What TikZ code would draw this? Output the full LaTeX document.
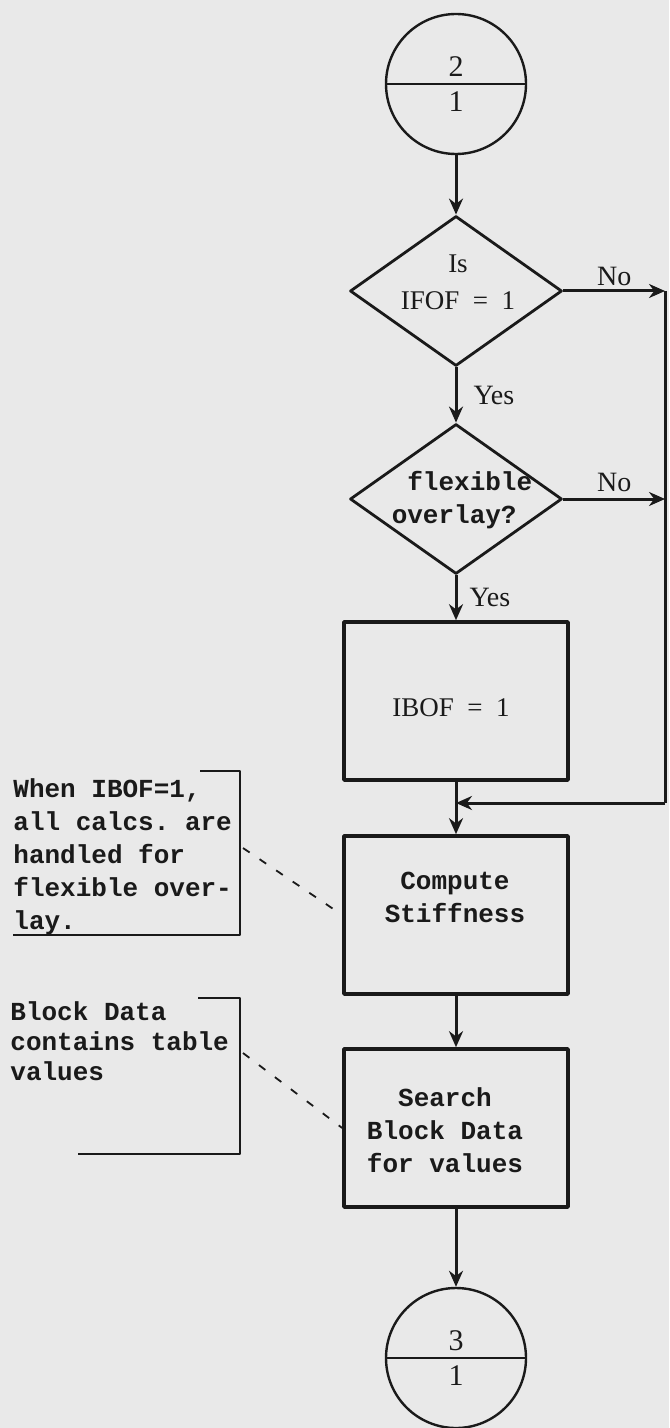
\documentclass[tikz,border=0pt]{standalone}
\usepackage{fontspec}
\setmainfont{Liberation Serif}
\setmonofont{Liberation Mono}
\usetikzlibrary{positioning,arrows.meta,shapes.geometric,shapes.multipart,calc}
\definecolor{ink}{RGB}{26,26,26}
\definecolor{paper}{RGB}{233,233,233}

\begin{document}
\begin{tikzpicture}[
  x=0.5pt, y=-0.5pt,
  line join=round,
  conn/.style={circle split, draw=ink, line width=1.2pt, minimum size=70pt,
               inner sep=3pt, font=\fontsize{15}{15}\selectfont, text=ink},
  dec/.style={diamond, draw=ink, line width=1.4pt, minimum width=106pt,
              minimum height=75pt, inner sep=0pt},
  proc/.style={draw=ink, line width=1.8pt, minimum width=112pt,
               minimum height=79pt, inner sep=0pt},
  ser/.style={font=\fontsize{13.5}{18.5}\selectfont, text=ink, align=center, inner sep=0pt},
  tw/.style={font=\fontsize{13}{16.5}\selectfont\ttfamily\bfseries, text=ink,
             align=left, inner sep=0pt},
  lbl/.style={font=\fontsize{14}{14}\selectfont, text=ink, inner sep=2pt},
  ar/.style={-{Stealth[length=8pt,width=7pt]}, draw=ink, line width=1.5pt},
  ln/.style={draw=ink, line width=1.5pt},
  brk/.style={draw=ink, line width=1.3pt},
  lead/.style={draw=ink, line width=0.9pt, dash pattern=on 4pt off 6pt},
]
\useasboundingbox (0,0) rectangle (669,1428);
\fill[paper] (0,0) rectangle (669,1428);

% main column
\node[conn] (c2) at (456,84) {2\nodepart{lower}1};

\node[dec] (d1) at (456,291) {};
\node[ser] (d1-t) at (458,282) {Is\\IFOF\enspace=\enspace1};

\node[dec] (d2) at (456,499) {};
\node[tw] (d2-t) at (462,500) {\phantom{x}flexible\\overlay?};

\node[proc] (ibof) at (456,701) {};
\node[ser] (ibof-t) at (451,708) {IBOF\enspace=\enspace1};

\node[proc] (stiff) at (456,915) {};
\node[tw] (stiff-t) at (455,897) {\phantom{x}Compute\\Stiffness};

\node[proc] (search) at (456,1128) {};
\node[tw] (search-t) at (445,1130) {\phantom{xx}Search\\Block Data\\for values};

\node[conn] (c3) at (456,1358) {3\nodepart{lower}1};

% return rail on the right
\coordinate (rail) at (665,291);
\coordinate (join) at (456,803);

\draw[ar] (c2) -- (d1);
\draw[ar] (d1) -- (d2) node[lbl, midway, right=6pt] {Yes};
\draw[ar] (d2) -- (ibof) node[lbl, midway, right=4pt] {Yes};
\draw[ar] (d1.east) -- (rail) node[lbl, midway, above=0pt] {No};
\draw[ar] (d2.east) -- (d2.east -| rail) node[lbl, midway, above=1pt] {No};
\draw[ln] (rail) -- (rail |- join);
\draw[ar] (rail |- join) -- (join);
\draw[ar] (ibof) -- (stiff);
\draw[ar] (stiff) -- (search);
\draw[ar] (search) -- (c3);

% notes on the left
\node[tw, anchor=north west] (note1) at (13,778)
  {When IBOF=1,\\all calcs. are\\handled for\\flexible over-\\lay.};
\node[tw, anchor=north west, font=\fontsize{13}{15}\selectfont\ttfamily\bfseries] (note2) at (10,1001)
  {Block Data\\contains table\\values};

\draw[brk] (200,771) -| (240,935) -- (13,935);
\draw[brk] (198,998) -| (240,1154) -- (78,1154);

\coordinate (tag1) at (243,848);
\coordinate (tag2) at (243,1053);
\draw[lead] (tag1) -- (stiff.west);
\draw[lead] (tag2) -- (search.west);
\end{tikzpicture}
\end{document}
